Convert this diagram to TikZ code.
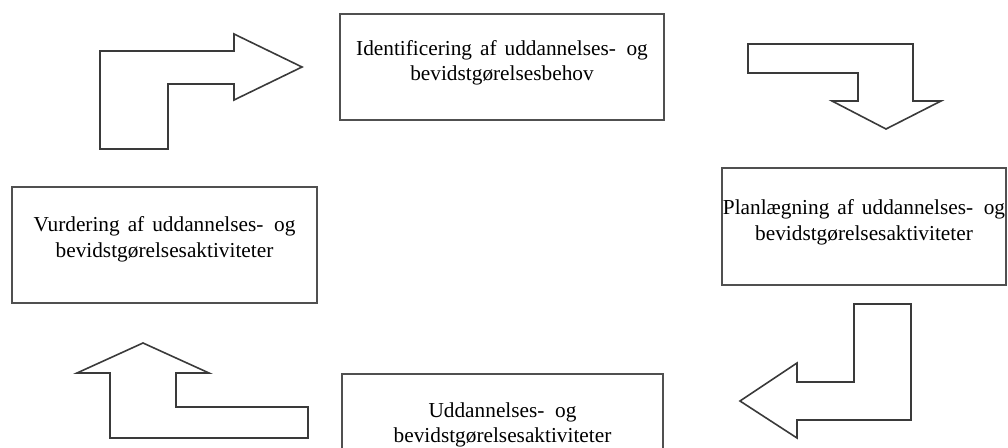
\documentclass[tikz,border=0pt]{standalone}
\usepackage{fontspec}
\setmainfont{Liberation Serif}[WordSpace=1.5]
\definecolor{boxline}{HTML}{505050}
\definecolor{arrowline}{HTML}{3A3A3A}
\begin{document}
\begin{tikzpicture}[x=1pt,y=-1pt,
  stagebox/.style={draw=boxline, line width=1.4pt, rectangle, inner sep=0pt},
  stagetext/.style={anchor=north, inner sep=0pt, align=center,
    font=\fontsize{21.3}{25.5}\selectfont},
  blockarrow/.style={draw=arrowline, line width=1.6pt, line join=miter}]
\useasboundingbox (0,0) rectangle (1008,447);
\clip (0,0) rectangle (1008,447);

% the four stages of the cycle
\node[stagebox, minimum width=324pt, minimum height=106pt] (b1) at (502,67) {};
\node[stagebox, minimum width=284pt, minimum height=117pt] (b2) at (864,226.5) {};
\node[stagebox, minimum width=305pt, minimum height=116pt] (b3) at (164.5,245) {};
\node[stagebox, minimum width=321pt, minimum height=106pt] (b4) at (502.5,427) {};

\node[stagetext] (t1) at ([yshift=-27pt]b1.north)
  {Identificering af uddannelses-\hspace{0.5em}og\\bevidstgørelsesbehov};
\node[stagetext] (t2) at ([yshift=-32pt]b2.north)
  {Planlægning af uddannelses-\hspace{0.5em}og\\bevidstgørelsesaktiviteter};
\node[stagetext] (t3) at ([yshift=-30pt]b3.north)
  {Vurdering af uddannelses-\hspace{0.5em}og\\bevidstgørelsesaktiviteter};
\node[stagetext] (t4) at ([yshift=-29pt]b4.north)
  {Uddannelses-\hspace{0.5em}og\\bevidstgørelsesaktiviteter};

% bent block arrows between the stages
\draw[blockarrow] (100,51) -- (234,51) -- (234,34) -- (302,67) -- (234,100)
  -- (234,84) -- (168,84) -- (168,149) -- (100,149) -- cycle;
\draw[blockarrow] (748,44) -- (913,44) -- (913,101) -- (941,101) -- (886,129)
  -- (832,101) -- (858,101) -- (858,73) -- (748,73) -- cycle;
\draw[blockarrow] (854,304) -- (911,304) -- (911,420) -- (797,420) -- (797,438)
  -- (740,401) -- (797,363) -- (797,382) -- (854,382) -- cycle;
\draw[blockarrow] (143,343) -- (209,373) -- (176,373) -- (176,407) -- (308,407)
  -- (308,438) -- (110,438) -- (110,373) -- (77,373) -- cycle;
\end{tikzpicture}
\end{document}
